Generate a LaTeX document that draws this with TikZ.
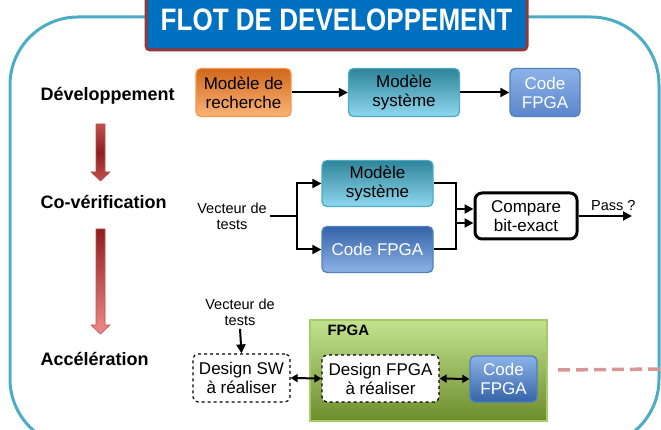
\documentclass[tikz,border=0pt]{standalone}
\usepackage{fontspec}
\setmainfont{Liberation Sans}
\usetikzlibrary{arrows.meta}

\definecolor{frameteal}{HTML}{4BACC6}
\definecolor{titleblue}{HTML}{0070C0}
\definecolor{titlered}{HTML}{953735}
\definecolor{orangetop}{HTML}{D0681C}
\definecolor{orangebot}{HTML}{FBB477}
\definecolor{orangeedge}{HTML}{F79646}
\definecolor{tealtop}{HTML}{2E8499}
\definecolor{tealbot}{HTML}{8FD8F0}
\definecolor{tealedge}{HTML}{4BACC6}
\definecolor{bluelight}{HTML}{8DB3E8}
\definecolor{bluemid}{HTML}{5A86CB}
\definecolor{bluedark}{HTML}{3563A8}
\definecolor{blueedge}{HTML}{4F81BD}
\definecolor{greentop}{HTML}{C4E38F}
\definecolor{greenbot}{HTML}{6C8C2C}
\definecolor{greenedge}{HTML}{A5CC66}
\definecolor{arrowdark}{HTML}{8E1E1E}
\definecolor{arrowmid}{HTML}{C0504D}
\definecolor{arrowlight}{HTML}{F08A8A}
\definecolor{pinkdash}{HTML}{D99694}

\tikzset{
  boxtext/.style={font=\fontsize{17}{19}\selectfont, align=center},
  block/.style={boxtext, rounded corners=5pt, line width=1.3pt,
    minimum height=48pt, inner sep=2pt},
  orangebox/.style={block, draw=orangeedge, top color=orangetop, bottom color=orangebot},
  tealbox/.style={block, draw=tealedge, top color=tealtop, bottom color=tealbot},
  bluesoft/.style={block, draw=blueedge, top color=bluelight, bottom color=bluemid, text=white},
  bluedown/.style={block, draw=blueedge, top color=bluelight, bottom color=bluedark, text=white},
  blueup/.style={block, draw=blueedge, top color=bluedark, bottom color=bluelight, text=white},
  dashbox/.style={block, draw=black, fill=white, dashed, line width=1.2pt},
  rowlabel/.style={font=\fontsize{18}{20}\selectfont\bfseries, anchor=west},
  smalltext/.style={font=\fontsize{14.5}{16}\selectfont, align=center},
  flow/.style={line width=2pt, -{Triangle[length=9pt,width=9pt]}},
  twoway/.style={line width=2pt, {Triangle[length=7pt,width=8pt]}-{Triangle[length=7pt,width=8pt]}},
  plain/.style={line width=2pt}
}

\begin{document}
\begin{tikzpicture}[x=1pt,y=-1pt]
\useasboundingbox (0,0) rectangle (661,430);
\begin{scope}
\clip (0,0) rectangle (661,430);

% outer rounded frame
\draw[frameteal, line width=3pt, rounded corners=68pt] (10,17) rectangle (659,447);

% title banner
\node[draw=titlered, line width=3pt, fill=titleblue, rounded corners=4pt,
      minimum width=381pt, minimum height=60pt, text=white,
      font=\fontsize{31}{31}\selectfont\bfseries] (title) at (336.5,20)
      {\scalebox{0.84}[1]{FLOT DE DEVELOPPEMENT}};

% row labels
\node[rowlabel] (ldev) at (37,96) {Développement};
\node[rowlabel] (lcov) at (37,202) {Co-vérification};
\node[rowlabel] (lacc) at (37,359) {Accélération};

% red downward arrows between stages
\shade[top color=arrowmid, bottom color=arrowmid, middle color=arrowdark, draw=arrowmid, line width=0.6pt]
  (96,124) -- (105,124) -- (105,172) -- (110,172) -- (100.5,181) -- (91,172) -- (96,172) -- cycle;
\shade[top color=arrowdark, bottom color=arrowlight, draw=arrowmid, line width=0.6pt]
  (96,229) -- (105,229) -- (105,325) -- (110,325) -- (100.5,334) -- (91,325) -- (96,325) -- cycle;

% row 1: development chain
\node[orangebox, minimum width=95pt] (rech) at (243.5,92.5) {Modèle de\\recherche};
\node[tealbox, minimum width=111pt] (sys1) at (404,92.5) {Modèle\\système};
\node[bluesoft, minimum width=70pt] (fpga1) at (545,92.5) {Code\\FPGA};
\draw[flow] (rech) -- (sys1);
\draw[flow] (sys1) -- (fpga1);

% row 2: co-verification
\node[smalltext] (vt1) at (232,216) {Vecteur de\\tests};
\node[tealbox, minimum width=111pt, minimum height=46pt] (sys2) at (377.5,183.5) {Modèle\\système};
\node[blueup, minimum width=111pt, minimum height=46pt] (fpga2) at (377.5,249.5) {Code FPGA};
\node[boxtext, draw=black, line width=3pt, fill=white, rounded corners=7pt,
      minimum width=102pt, minimum height=46pt] (cmp) at (526,216) {Compare\\bit-exact};
\coordinate (split) at (297,216);
\coordinate (outend) at (632,216);
\draw[plain] (vt1.east) -- (split);
\draw[flow] (split) |- (sys2.west);
\draw[flow] (split) |- (fpga2.west);
\draw[flow] (sys2.east) -- ++(22,0) |- ([yshift=-7pt]cmp.west);
\draw[flow] (fpga2.east) -- ++(22,0) |- ([yshift=7pt]cmp.west);
\draw[flow] (cmp.east) -- node[above, smalltext, xshift=8pt, yshift=1pt] {Pass ?} (outend);

% row 3: acceleration
\node[smalltext] (vt2) at (240,312) {Vecteur de\\tests};
\node[draw=greenedge, line width=1.5pt, top color=greentop, bottom color=greenbot,
      minimum width=237pt, minimum height=101pt] (fpgabox) at (428.5,370.5) {};
\node[font=\fontsize{15}{16}\selectfont\bfseries, anchor=west] (fpgalbl) at (324,330) {FPGA};
\node[dashbox, minimum width=97pt, minimum height=48pt] (sw) at (241.5,378) {Design SW\\à réaliser};
\node[dashbox, minimum width=117pt, minimum height=47pt] (hw) at (380.5,378.5) {Design FPGA\\à réaliser};
\node[bluedown, minimum width=67pt, minimum height=46pt] (fpga3) at (503.5,379) {Code\\FPGA};
\draw[flow] (vt2.south) -- (sw.north);
\draw[twoway] (sw.east) -- (hw.west);
\draw[twoway] (hw.east) -- (fpga3.west);

% continuation towards the next stage
\coordinate (dashstart) at (558,370);
\coordinate (dashend) at (661,369);
\draw[pinkdash, line width=3.5pt, dash pattern=on 12pt off 6pt] (dashstart) -- (dashend);
\end{scope}
\end{tikzpicture}
\end{document}
